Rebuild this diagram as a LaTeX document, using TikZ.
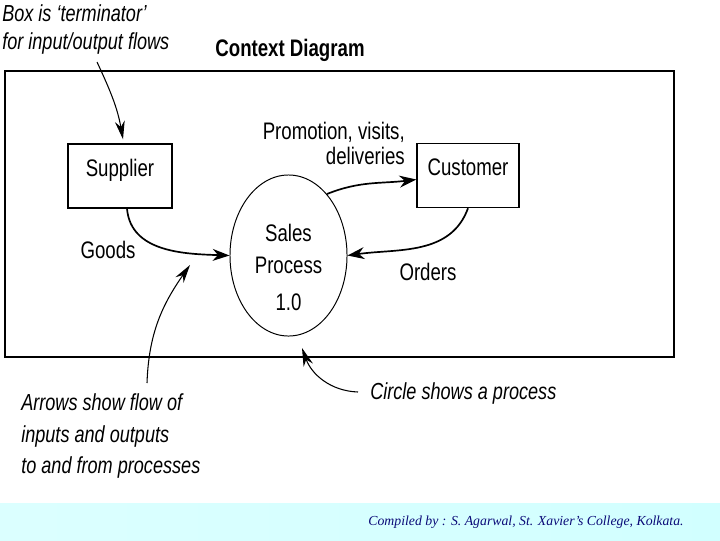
\documentclass[tikz,border=0pt]{standalone}
\usepackage{fontspec}
\usepackage{xcolor}
\usepackage{tikz}
\usetikzlibrary{arrows.meta,shapes.geometric}

\newfontfamily\narrowsans{Liberation Sans}[FakeStretch=0.78, Ligatures=TeX]
\newfontfamily\footserif{Liberation Serif}[Ligatures=TeX]
\newcommand\dfdfont{\narrowsans\fontsize{17}{17.7}\selectfont}
\definecolor{navy}{RGB}{10,10,120}

\begin{document}
\begin{tikzpicture}[
  x=0.025cm, y=0.025cm,
  term/.style={draw, rectangle, line width=1pt, inner sep=0pt,
               minimum width=2.6cm, text height=0.8cm, text depth=0.8cm,
               font=\dfdfont},
  bubble/.style={draw, ellipse, line width=0.7pt, inner sep=0pt,
                 minimum width=2.925cm, minimum height=4.025cm},
  lbl/.style={font=\dfdfont, inner sep=0pt},
  notetxt/.style={font=\narrowsans\itshape\fontsize{16.5}{22.7}\selectfont,
                  align=left, inner sep=0pt},
  flow/.style={-{Stealth[length=12pt, width=8.5pt]}, line width=1.2pt},
  note/.style={-{Stealth[length=13pt, width=7pt]}, line width=0.75pt}
]
\useasboundingbox (0,0) rectangle (720,-540);

% ── Footer band ──
\shade[left color=cyan!14, middle color=cyan!5, right color=cyan!18]
     (0,-503) rectangle (720,-540);
\node[font=\footserif\itshape\fontsize{9.8}{11}\selectfont, text=navy]
     (credit) at (526,-522)
     {Compiled by : S. Agarwal, St. Xavier’s College, Kolkata.};

% ── Title and frame ──
\node[lbl, font=\dfdfont\bfseries] (title) at (290,-50) {Context Diagram};
\draw[line width=1.4pt] (5,-71) rectangle (674,-357);

% ── Terminators and process ──
\node[term] (supplier) at (120,-176) {Supplier};
\node[term, minimum width=2.55cm] (customer) at (468,-175.5) {Customer};
\node[bubble] (proc) at (288.5,-255.5)
     [label={[lbl, align=center, yshift=-0.3cm,
              font=\narrowsans\fontsize{17}{22.7}\selectfont]center:
              Sales\\Process\\[4pt]1.0}] {};

% ── Flow labels ──
\node[lbl] (goods) at (108,-250) {Goods};
\node[lbl] (orders) at (428,-272) {Orders};
\node[lbl, align=right, anchor=north east] (promo) at (405,-122)
     {Promotion, visits,\\deliveries};

% ── Flows ──
\draw[flow] ([xshift=0.175cm]supplier.south) to[out=-85, in=178] (proc.west);
\draw[flow] (proc.58) to[out=22, in=187] ([yshift=-0.1cm]customer.west);
\draw[flow] (customer.south) to[out=-110, in=8] (proc.east);

% ── Annotations ──
\node[notetxt, font=\narrowsans\itshape\fontsize{16.5}{20.5}\selectfont,
      anchor=north west] (termnote) at (2,-4)
     {Box is ‘terminator’\\for input/output flows};
\node[notetxt, anchor=north west] (flownote) at (21,-393)
     {Arrows show flow of\\inputs and outputs\\to and from processes};
\node[notetxt, anchor=west] (procnote) at (370,-393) {Circle shows a process};

\coordinate (termtail) at (97,-62);
\coordinate (flowtail) at (147,-383);
\coordinate (flowtip)  at (190,-265);
\coordinate (proctail) at (358,-392);
\coordinate (proctip)  at (302,-348);

\draw[note] (termtail) to[out=-65, in=100]
     ([xshift=0.075cm, yshift=0.1cm]supplier.north);
\draw[note] (flowtail) to[out=88, in=-125] (flowtip);
\draw[note] (proctail) to[out=178, in=-70] (proctip);

\end{tikzpicture}
\end{document}
